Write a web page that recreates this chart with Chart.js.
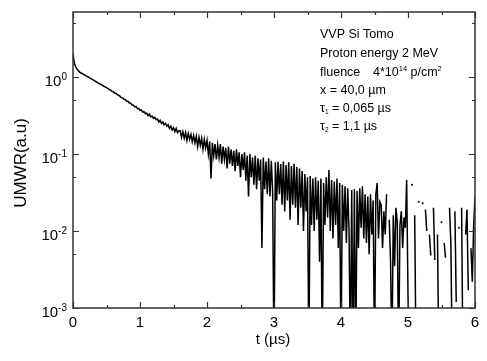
<!DOCTYPE html>
<html>
<head>
<meta charset="utf-8">
<script src="https://cdn.jsdelivr.net/npm/chart.js@4"></script>
<style>
  html, body { margin: 0; padding: 0; background: #fff; }
  canvas { display: block; }
</style>
</head>
<body>
<canvas id="mycanvas" width="487" height="361"></canvas>
<script>
// sample spacing of the trace (µs)
var sampleStep = 0.02;

// UMWR signal, one value per sample (null = no positive value)
var signal = [
  2.0, 1.52, 1.36, 1.27, 1.21, 1.16, 1.13, 1.11, 1.08, 1.06,
  1.03, 1.01, 0.985, 0.96, 0.94, 0.92, 0.9, 0.875, 0.855, 0.835,
  0.815, 0.80, 0.78, 0.76, 0.745, 0.73, 0.71, 0.69, 0.68, 0.655,
  0.645, 0.62, 0.615, 0.59, 0.58, 0.565, 0.54, 0.535, 0.515, 0.51,
  0.485, 0.485, 0.46, 0.46, 0.435, 0.435, 0.41, 0.415, 0.39, 0.39,
  0.37, 0.375, 0.35, 0.355, 0.335, 0.34, 0.315, 0.33, 0.305, 0.31,
  0.29, 0.3, 0.28, 0.285, 0.26, 0.275, 0.25, 0.26, 0.24, 0.25,
  0.23, 0.24, 0.215, 0.23, 0.205, 0.22, 0.195, 0.215, 0.19, 0.2,
  0.2, 0.165, 0.195, 0.16, 0.19, 0.15, 0.185, 0.155, 0.18, 0.145,
  0.175, 0.14, 0.17, 0.125, 0.165, 0.13, 0.16, 0.115, 0.155, 0.12,
  0.15, 0.1, 0.145, 0.048, 0.14, 0.095, 0.135, 0.085, 0.13, 0.09,
  0.135, 0.075, 0.125, 0.085, 0.12, 0.065, 0.125, 0.075, 0.115, 0.07,
  0.11, 0.06, 0.115, 0.07, 0.105, 0.05, 0.1, 0.062, 0.105, 0.045,
  0.095, 0.028, 0.1, 0.05, 0.09, 0.04, 0.095, 0.035, 0.088, 0.045,
  0.085, 0.006, 0.09, 0.035, 0.08, 0.03, 0.088, 0.028, 0.082, 0.032,
  0.0002, 0.078, 0.025, 0.08, 0.03, 0.074, 0.022, 0.08, 0.018, 0.072,
  0.025, 0.078, 0.014, 0.07, 0.022, 0.075, 0.02, 0.068, 0.012, 0.065,
  0.02, 0.06, 0.01, 0.055, 0.018, 0.05, 0.0002, 0.052, 0.012, 0.048,
  0.01, 0.05, 0.014, 0.045, 0.004, 0.048, 0.0002, 0.042, 0.012, 0.05,
  0.015, 0.062, 0.01, 0.046, 0.008, 0.044, 0.012, 0.048, 0.006, 0.042,
  0.0002, 0.04, 0.01, 0.038, 0.007, 0.036, 0.01, 0.0002, 0.034, 0.0002,
  0.035, 0.0002, 0.033, 0.006, 0.036, 0.011, 0.038, 0.008, 0.03, 0.007,
  0.028, 0.005, 0.03, 0.009, 0.025, 0.0002, 0.03, 0.042, 0.008, 0.024,
  0.022, 0.006, 0.018, 0.009, 0.03, null, 0.014, 0.004, 0.0002, 0.016,
  0.0035, 0.02, 0.013, 0.0002, 0.012, 0.018, 0.006, 0.015, 0.011, 0.046,
  0.0015, 0.0002, null, 0.04, null, 0.016, 0.0002, null, 0.024, null,
  null, 0.023, null, 0.019, 0.01, null, 0.009, 0.0048, null, 0.02,
  0.0042, null, 0.009, 0.0002, null, 0.013, null, 0.007, 0.0045, null,
  null, 0.02, 0.0068, 0.0002, null, 0.018, 0.0012, null, 0.011, null,
  0.02, 0.0002, null, 0.009, 0.019, 0.0017, null, 0.006, 0.0022, 0.012,
  0.028
];

var xTicks = [0, 1, 2, 3, 4, 5, 6];
var xMinorTicks = [0.5, 1.5, 2.5, 3.5, 4.5, 5.5];
var yExponents = [-3, -2, -1, 0];
var yMinorTicks = [0.005, 0.05, 0.5, 5];

var xTitle = 't (\u00b5s)';
var yTitle = 'UMWR(a.u)';
var notes = ['VVP Si Tomo', 'Proton energy 2 MeV'];

var FONT = '"Liberation Sans", Arial, sans-serif';

var points = [];
for (var i = 0; i < signal.length; i++) {
    points.push({x: +(i * sampleStep).toFixed(2), y: signal[i]});
}

function isolated(i) {
    if (signal[i] === null) return false;
    var before = i === 0 ? null : signal[i - 1];
    var after = i === signal.length - 1 ? null : signal[i + 1];
    return before === null && after === null;
}

// draws text pieces one after another: [text, size, dy]
function drawPieces(ctx, x, y, pieces) {
    pieces.forEach(function(p) {
        ctx.font = p[1] + 'px ' + FONT;
        ctx.fillText(p[0], x, y + (p[2] || 0));
        x += ctx.measureText(p[0]).width;
    });
    return x;
}

var frame = {
    id: 'frame',
    afterDatasetsDraw: function(chart) {
        var ctx = chart.ctx;
        var a = chart.chartArea;
        var xs = chart.scales.x;
        var ys = chart.scales.y;

        ctx.save();
        ctx.strokeStyle = '#333';
        ctx.lineWidth = 1.5;
        ctx.strokeRect(a.left, a.top, a.right - a.left, a.bottom - a.top);

        ctx.lineWidth = 1.2;
        ctx.beginPath();
        function xtick(v, len) {
            var px = Math.round(xs.getPixelForValue(v)) + 0.5;
            ctx.moveTo(px, a.bottom); ctx.lineTo(px, a.bottom - len);
            ctx.moveTo(px, a.top); ctx.lineTo(px, a.top + len);
        }
        function ytick(v, len) {
            var py = Math.round(ys.getPixelForValue(v)) + 0.5;
            ctx.moveTo(a.left, py); ctx.lineTo(a.left + len, py);
            ctx.moveTo(a.right, py); ctx.lineTo(a.right - len, py);
        }
        xTicks.forEach(function(v) { xtick(v, 6); });
        xMinorTicks.forEach(function(v) { xtick(v, 3); });
        yExponents.forEach(function(e) { ytick(Math.pow(10, e), 6); });
        yMinorTicks.forEach(function(v) { ytick(v, 3); });
        ctx.stroke();

        ctx.fillStyle = '#000';
        ctx.textBaseline = 'alphabetic';

        // x tick labels
        ctx.textAlign = 'center';
        ctx.font = '15px ' + FONT;
        xTicks.forEach(function(v) {
            ctx.fillText(String(v), xs.getPixelForValue(v), 327);
        });

        // y tick labels 10^n
        ctx.textAlign = 'left';
        yExponents.forEach(function(e) {
            var py = ys.getPixelForValue(Math.pow(10, e));
            ctx.font = '15px ' + FONT;
            var w1 = ctx.measureText('10').width;
            ctx.font = '10px ' + FONT;
            var w2 = ctx.measureText(String(e)).width;
            var x0 = a.left - 6 - w1 - w2;
            drawPieces(ctx, x0, py + 8.5, [['10', 15], [String(e), 10, -5.5]]);
        });

        // axis titles
        ctx.textAlign = 'center';
        ctx.font = '15px ' + FONT;
        ctx.fillText(xTitle, 273, 344);

        ctx.save();
        ctx.translate(20, 163);
        ctx.rotate(-Math.PI / 2);
        ctx.font = '17px ' + FONT;
        ctx.fillText(yTitle, 0, 6);
        ctx.restore();

        // annotation
        ctx.textAlign = 'left';
        var nx = 320;
        var fs = 12.5;
        drawPieces(ctx, nx, 38, [[notes[0], fs]]);
        drawPieces(ctx, nx, 57, [[notes[1], fs]]);
        drawPieces(ctx, nx, 76, [['fluence', fs]]);
        drawPieces(ctx, 373, 76, [['4*10', fs], ['14', 7.5, -5], [' p/cm', fs], ['2', 7.5, -5]]);
        drawPieces(ctx, nx, 94, [['x = 40,0 \u00b5m', fs]]);
        drawPieces(ctx, nx, 112, [['\u03c4', fs], ['1', 6.5, 2], [' = 0,065 \u00b5s', fs]]);
        drawPieces(ctx, nx, 130, [['\u03c4', fs], ['2', 6.5, 2], [' = 1,1 \u00b5s', fs]]);

        ctx.restore();
    }
};

var ctx = document.getElementById('mycanvas').getContext('2d');

var chart = new Chart(ctx, {
    type: 'line',
    data: {
        datasets: [{
            data: points,
            borderColor: '#000',
            backgroundColor: '#000',
            borderWidth: 1.5,
            tension: 0,
            spanGaps: false,
            pointRadius: function(c) { return isolated(c.dataIndex) ? 1 : 0; },
            pointBorderWidth: 0,
            pointBackgroundColor: '#000'
        }]
    },
    options: {
        responsive: false,
        animation: false,
        devicePixelRatio: 1,
        layout: { padding: { left: 73, right: 12, top: 12, bottom: 53 } },
        scales: {
            x: { type: 'linear', min: 0, max: 6, display: false },
            y: { type: 'logarithmic', min: 0.001, max: 7, display: false }
        },
        plugins: {
            legend: { display: false },
            tooltip: { enabled: false }
        }
    },
    plugins: [frame]
});
</script>
</body>
</html>
